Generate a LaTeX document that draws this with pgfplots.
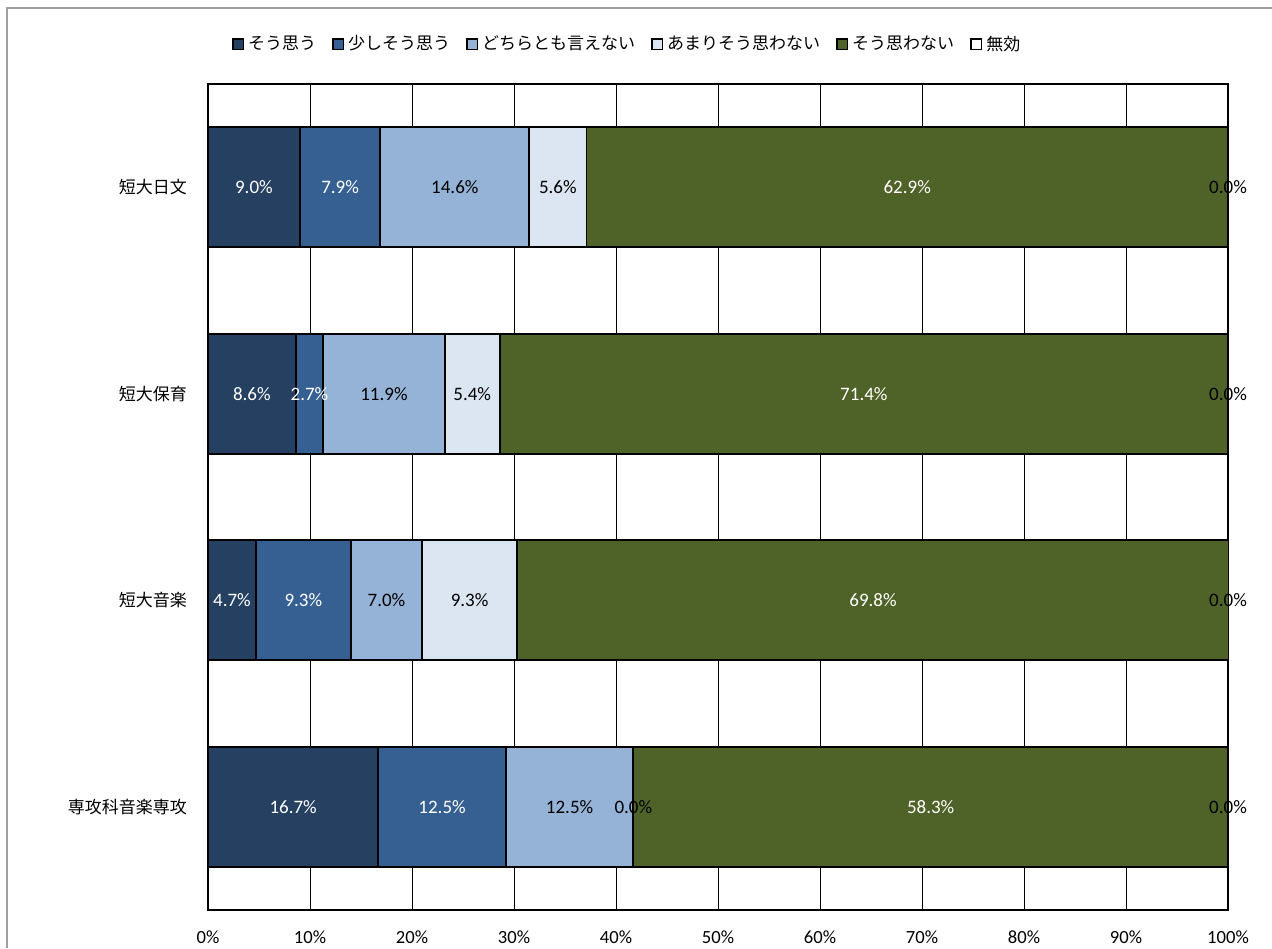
\documentclass[border=0pt]{standalone}
\usepackage{pgfplots}
\usepackage{pgfplotstable}
\pgfplotsset{compat=1.18}
\usepackage{fontspec}
\setmainfont{Carlito}
\newfontfamily\cjk{Noto Sans CJK JP}
\definecolor{c1}{HTML}{254061}
\definecolor{c2}{HTML}{376092}
\definecolor{c3}{HTML}{95B3D7}
\definecolor{c4}{HTML}{DCE6F2}
\definecolor{c5}{HTML}{4F6228}
\definecolor{c6}{HTML}{FFFFFF}
% rows: 短大日文, 短大保育, 短大音楽, 専攻科音楽専攻
\pgfplotstableread{
y  a     b     c     d    e     f
0  9.0   7.9   14.6  5.6  62.9  0.0
1  8.6   2.7   11.9  5.4  71.4  0.0
2  4.7   9.3   7.0   9.3  69.8  0.0
3  16.7  12.5  12.5  0.0  58.3  0.0
}\answers
\pgfplotsset{
  frame/.style={
    at={(104pt,19pt)}, anchor=south west,
    scale only axis, width=510pt, height=413pt,
    xmin=0, xmax=100, ymin=-0.5, ymax=3.5, y dir=reverse},
  seg/.style={fill=#1, draw=black, line width=0.9pt},
  lab/.style={only marks, mark=none, point meta=explicit,
    nodes near coords={\pgfmathprintnumber[fixed,fixed zerofill,precision=1]{\pgfplotspointmeta}\%},
    every node near coord/.append style={anchor=center, font=\fontsize{9.5}{10}\selectfont, #1}},
}
\begin{document}
\begin{tikzpicture}
\useasboundingbox (0,0) rectangle (636pt,474pt);
\draw[gray!75, line width=1.2pt] (3.5pt,0pt) -- (3.5pt,470pt) -- (636pt,470pt);
\begin{axis}[
    frame,
    xbar stacked,
    bar width=60pt,
    xtick={0,10,...,100},
    xticklabel={\pgfmathprintnumber{\tick}\%},
    ytick={0,1,2,3},
    yticklabels={{\cjk 短大日文},{\cjk 短大保育},{\cjk 短大音楽},{\cjk 専攻科音楽専攻}},
    major tick length=0pt,
    xmajorgrids=true,
    grid style={black, line width=0.5pt},
    axis line style={black, line width=0.6pt},
    /pgf/number format/assume math mode=true,
    xticklabel style={font=\fontsize{9.3}{10}\selectfont, yshift=-7pt},
    yticklabel style={font=\fontsize{8.5}{10}\selectfont, xshift=-7pt},
    legend columns=6,
    legend style={at={(0.412,1.048)}, anchor=center, draw=none, fill=none,
        font=\fontsize{8.5}{10}\selectfont\cjk,
        /tikz/every even column/.append style={column sep=6pt}},
    legend image code/.code={\draw[#1, draw=black, line width=0.8pt] (0pt,-2.6pt) rectangle (5.2pt,2.6pt);},
    legend cell align=left,
]
\addplot[seg=c1] table[x=a, y=y] {\answers};
\addplot[seg=c2] table[x=b, y=y] {\answers};
\addplot[seg=c3] table[x=c, y=y] {\answers};
\addplot[seg=c4] table[x=d, y=y] {\answers};
\addplot[seg=c5] table[x=e, y=y] {\answers};
\addplot[seg=c6] table[x=f, y=y] {\answers};
\legend{そう思う,少しそう思う,どちらとも言えない,あまりそう思わない,そう思わない,無効}
\end{axis}
% value labels, centred on each segment
\begin{axis}[
    frame, hide axis, clip=false,
    /pgf/number format/assume math mode=true,
]
\addplot[lab=white] table[x expr=\thisrow{a}/2, y=y, meta=a] {\answers};
\addplot[lab=white] table[x expr=\thisrow{a}+\thisrow{b}/2, y=y, meta=b] {\answers};
\addplot[lab=black] table[x expr=\thisrow{a}+\thisrow{b}+\thisrow{c}/2, y=y, meta=c] {\answers};
\addplot[lab=black] table[x expr=\thisrow{a}+\thisrow{b}+\thisrow{c}+\thisrow{d}/2, y=y, meta=d] {\answers};
\addplot[lab=white] table[x expr=\thisrow{a}+\thisrow{b}+\thisrow{c}+\thisrow{d}+\thisrow{e}/2, y=y, meta=e] {\answers};
\addplot[lab=black] table[x expr=100, y=y, meta=f] {\answers};
\end{axis}
\end{tikzpicture}
\end{document}
